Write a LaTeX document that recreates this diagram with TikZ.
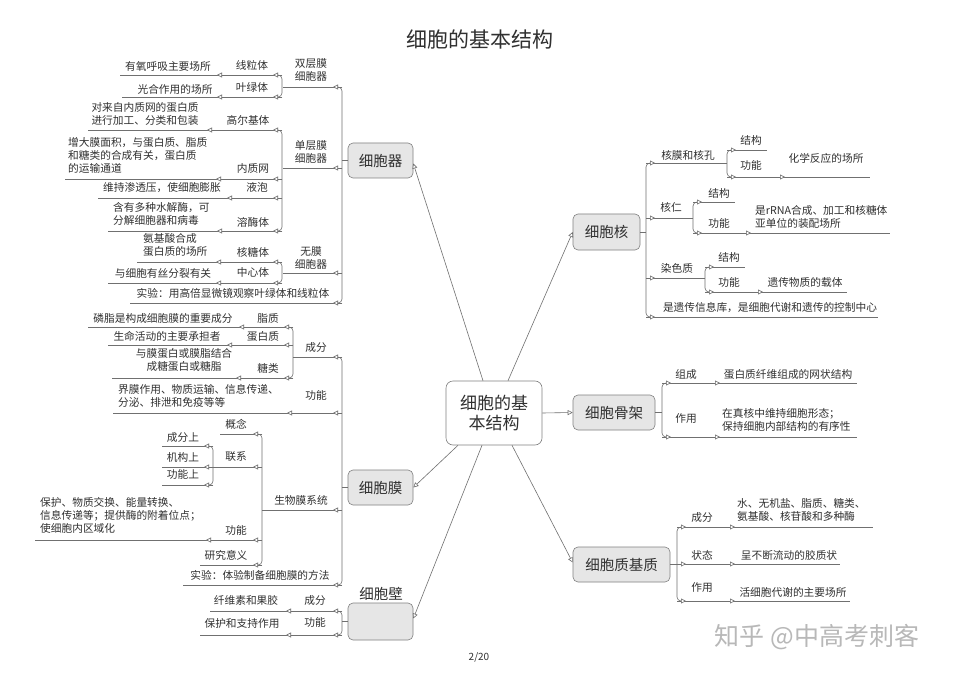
\documentclass[tikz,border=0pt]{standalone}
\usepackage{fontspec}
\setmainfont{Noto Sans CJK SC}
\usetikzlibrary{arrows.meta}

\definecolor{linegray}{HTML}{707070}
\definecolor{textgray}{HTML}{303030}
\definecolor{boxfill}{HTML}{E6E6E6}
\definecolor{boxline}{HTML}{808080}

\tikzset{
  branch/.style={draw=linegray, line width=0.6pt},
  tipline/.style={branch, -{Triangle[length=5pt, width=5pt, fill=white]}},
  lbl/.style={font=\fontsize{10.7}{13}\selectfont, text=textgray, inner sep=0pt, align=center},
  lblw/.style={lbl, anchor=west, align=left},
  topic/.style={draw=boxline, fill=boxfill, rounded corners=5pt, line width=0.6pt,
    minimum height=35pt, inner sep=0pt, text=textgray, font=\fontsize{14.5}{16}\selectfont},
}

% child line: spine x, y, far end x
\newcommand{\lk}[3]{\draw[branch] (#1,#2) -- (#3,#2); \draw[tipline] (#1,#2) -- ++(-9,0);}
\newcommand{\rk}[3]{\draw[branch] (#1,#2) -- (#3,#2); \draw[tipline] (#1,#2) -- ++(9,0);}
% spine: x, top y, bottom y
\newcommand{\lspine}[3]{\draw[branch, rounded corners=4pt] (#1-5,#2) -- (#1,#2) -- (#1,#3) -- (#1-5,#3);}
\newcommand{\rspine}[3]{\draw[branch, rounded corners=4pt] (#1+5,#2) -- (#1,#2) -- (#1,#3) -- (#1+5,#3);}

\begin{document}
\begin{tikzpicture}[x=1pt, y=-1pt]
  \useasboundingbox (0,0) rectangle (960,676);
  \fill[white] (0,0) rectangle (960,676);

  \node[font=\fontsize{21}{24}\selectfont, text=textgray] (title) at (480,40) {细胞的基本结构};

  % main topics
  \node[draw=boxline, fill=white, rounded corners=7pt, line width=0.6pt, minimum width=96pt,
    minimum height=64pt, align=center, text=textgray, font=\fontsize{17}{20}\selectfont]
    (root) at (494,413) {细胞的基\\本结构};
  \node[topic, minimum width=65pt] (org) at (380.5,160.5) {细胞器};
  \node[topic, minimum width=65pt] (mem) at (380.5,487.5) {细胞膜};
  \node[topic, minimum width=65pt, minimum height=37pt] (wall) at (380.5,621.5) {};
  \node[font=\fontsize{14.5}{16}\selectfont, text=textgray] (wallname) at (381,594) {细胞壁};
  \node[topic, minimum width=67pt, minimum height=36pt] (nuc) at (606.5,232) {细胞核};
  \node[topic, minimum width=82pt] (skel) at (614,412.5) {细胞骨架};
  \node[topic, minimum width=97pt] (matrix) at (621.5,564.5) {细胞质基质};

  \draw[tipline] ([xshift=-11pt]root.north) -- ([yshift=-3pt]org.east);
  \draw[tipline] ([xshift=14pt]root.north) -- (nuc.west);
  \draw[tipline] (root.east) -- (skel.west);
  \draw[tipline] ([xshift=-36pt]root.south) -- (mem.east);
  \draw[tipline] ([xshift=-12pt]root.south) -- ([yshift=3pt]wall.east);
  \draw[tipline] ([xshift=18pt]root.south) -- ([yshift=2pt]matrix.west);

  % ---- 细胞器
  \draw[branch] (org.west) -- ++(-6,0);
  \lspine{342}{87}{303}
  \lk{342}{87}{283}  \node[lbl] (dbl) at (311,70) {双层膜\\细胞器};
  \lk{342}{168}{283} \node[lbl] (sgl) at (311,152) {单层膜\\细胞器};
  \lk{342}{273}{283} \node[lbl] (non) at (311,258) {无膜\\细胞器};
  \lk{342}{303}{130} \node[lbl] (exp1) at (233,293) {实验：用高倍显微镜观察叶绿体和线粒体};
  \lspine{282}{75}{97}
  \lk{282}{75}{222}  \node[lbl] (mito) at (252,65) {线粒体};
  \lk{226}{75}{120}  \node[lbl] (mitof) at (168,66) {有氧呼吸主要场所};
  \lk{282}{97}{222}  \node[lbl] (chl) at (252,87) {叶绿体};
  \lk{226}{97}{122}  \node[lbl] (chlf) at (175,89) {光合作用的场所};
  \lspine{282}{130}{231}
  \lk{282}{130}{212} \node[lbl] (golgi) at (248,120) {高尔基体};
  \lk{216}{130}{88}  \node[lbl] (golgif) at (145,113.5) {对来自内质网的蛋白质\\进行加工、分类和包装};
  \lk{282}{179}{221} \node[lbl] (er) at (253,168) {内质网};
  \lk{225}{179}{65}  \node[lblw] (erf) at (68,155) {增大膜面积，与蛋白质、脂质\\和糖类的合成有关，蛋白质\\的运输通道};
  \lk{282}{198}{232} \node[lbl] (vac) at (257,187) {液泡};
  \lk{236}{198}{98}  \node[lbl] (vacf) at (162,188) {维持渗透压，使细胞膨胀};
  \lk{282}{231}{222} \node[lbl] (lyso) at (253,222) {溶酶体};
  \lk{226}{231}{108} \node[lblw] (lysof) at (113,214) {含有多种水解酶，可\\分解细胞器和病毒};
  \lspine{282}{262}{283}
  \lk{282}{262}{221} \node[lbl] (ribo) at (253,252) {核糖体};
  \lk{225}{262}{137} \node[lblw] (ribof) at (143,245) {氨基酸合成\\蛋白质的场所};
  \lk{282}{283}{221} \node[lbl] (cent) at (253,272) {中心体};
  \lk{225}{283}{108} \node[lbl] (centf) at (163,273) {与细胞有丝分裂有关};

  % ---- 细胞膜
  \draw[branch] (mem.west) -- ++(-6,0);
  \lspine{342}{357}{585}
  \lk{342}{357}{293} \node[lbl] (comp) at (316,347) {成分};
  \lk{342}{413}{292} \node[lbl] (func) at (316,395) {功能};
  \lk{296}{413}{113} \node[lblw] (funcf) at (118,396) {界膜作用、物质运输、信息传递、\\分泌、排泄和免疫等等};
  \lk{342}{510}{262} \node[lbl] (bms) at (301,500) {生物膜系统};
  \lk{342}{585}{183} \node[lbl] (exp2) at (260,575) {实验：体验制备细胞膜的方法};
  \lspine{293}{327}{378}
  \lk{293}{327}{244} \node[lbl] (lip) at (268,318) {脂质};
  \lk{248}{327}{88}  \node[lbl] (lipf) at (163,318) {磷脂是构成细胞膜的重要成分};
  \lk{293}{345}{232} \node[lbl] (prot) at (263,336) {蛋白质};
  \lk{236}{345}{108} \node[lbl] (protf) at (167,336) {生命活动的主要承担者};
  \lk{293}{378}{241} \node[lbl] (sug) at (268,368) {糖类};
  \lk{245}{378}{112} \node[lbl] (sugf) at (184,360) {与膜蛋白或膜脂结合\\成糖蛋白或糖脂};
  \lspine{262}{434}{565}
  \lk{262}{434}{220} \node[lbl] (conc) at (236,424) {概念};
  \lk{262}{467}{213} \node[lbl] (link) at (236,457) {联系};
  \lk{262}{540}{211} \node[lbl] (bfunc) at (236,530) {功能};
  \lk{215}{540}{35}  \node[lblw] (bfuncf) at (40,515) {保护、物质交换、能量转换、\\信息传递等；提供酶的附着位点；\\使细胞内区域化};
  \lk{262}{565}{200} \node[lbl] (sig) at (226,555) {研究意义};
  \lspine{213}{446}{485}
  \lk{213}{446}{162} \node[lbl] (lk1) at (183,437) {成分上};
  \lk{213}{467}{162} \node[lbl] (lk2) at (183,457) {机构上};
  \lk{213}{485}{162} \node[lbl] (lk3) at (183,474) {功能上};

  % ---- 细胞壁
  \draw[branch] (wall.west) -- ++(-6,0);
  \lspine{342}{611}{635}
  \lk{342}{611}{291} \node[lbl] (wcomp) at (315,600) {成分};
  \lk{295}{611}{210} \node[lbl] (wcompf) at (246,600) {纤维素和果胶};
  \lk{342}{635}{291} \node[lbl] (wfunc) at (315,622) {功能};
  \lk{295}{635}{200} \node[lbl] (wfuncf) at (242,623) {保护和支持作用};

  % ---- 细胞核
  \draw[branch] (nuc.east) -- ++(6,0);
  \rspine{646}{163}{317}
  \rk{646}{163}{727} \node[lbl] (env) at (688,155) {核膜和核孔};
  \rk{646}{218}{693} \node[lbl] (nucl) at (671,207) {核仁};
  \rk{646}{278}{705} \node[lbl] (chrom) at (677,268) {染色质};
  \rk{646}{317}{878} \node[lbl] (ctrl) at (770,308) {是遗传信息库，是细胞代谢和遗传的控制中心};
  \rspine{727}{150}{177}
  \rk{727}{150}{767} \node[lbl] (env1) at (751,140) {结构};
  \rk{727}{177}{778} \node[lbl] (env2) at (751,165) {功能};
  \rk{776}{177}{870} \node[lbl] (env2f) at (826,158) {化学反应的场所};
  \rspine{693}{202}{233}
  \rk{693}{202}{735} \node[lbl] (nucl1) at (719,193) {结构};
  \rk{693}{233}{744} \node[lbl] (nucl2) at (719,223) {功能};
  \rk{742}{233}{890} \node[lblw] (nucl2f) at (755,216.5) {是rRNA合成、加工和核糖体\\亚单位的装配场所};
  \rspine{705}{267}{292}
  \rk{705}{267}{745} \node[lbl] (chrom1) at (729,257) {结构};
  \rk{705}{292}{756} \node[lbl] (chrom2) at (729,282) {功能};
  \rk{754}{292}{847} \node[lbl] (chrom2f) at (805,282) {遗传物质的载体};

  % ---- 细胞骨架
  \draw[branch] (skel.east) -- ++(7,0);
  \rspine{662}{383}{437}
  \rk{662}{383}{713} \node[lbl] (sk1) at (686,374) {组成};
  \rk{711}{383}{857} \node[lbl] (sk1f) at (788,374) {蛋白质纤维组成的网状结构};
  \rk{662}{437}{713} \node[lbl] (sk2) at (686,418) {作用};
  \rk{711}{437}{857} \node[lblw] (sk2f) at (722,419.5) {在真核中维持细胞形态；\\保持细胞内部结构的有序性};

  % ---- 细胞质基质
  \draw[branch] (matrix.east) -- ++(7,0);
  \rspine{677}{527}{601}
  \rk{677}{527}{728} \node[lbl] (mx1) at (702,517) {成分};
  \rk{726}{527}{873} \node[lblw] (mx1f) at (737,510) {水、无机盐、脂质、糖类、\\氨基酸、核苷酸和多种酶};
  \rk{677}{564}{728} \node[lbl] (mx2) at (702,555) {状态};
  \rk{726}{564}{840} \node[lbl] (mx2f) at (789,555) {呈不断流动的胶质状};
  \rk{677}{601}{728} \node[lbl] (mx3) at (702,587) {作用};
  \rk{726}{601}{850} \node[lbl] (mx3f) at (793,592) {活细胞代谢的主要场所};

  \node[font=\fontsize{10}{12}\selectfont, text=textgray] (page) at (479,657) {2/20};
  \node[font=\fontsize{25}{28}\selectfont, text=black!28] (mark) at (817,637) {知乎 @中高考刺客};
\end{tikzpicture}
\end{document}
